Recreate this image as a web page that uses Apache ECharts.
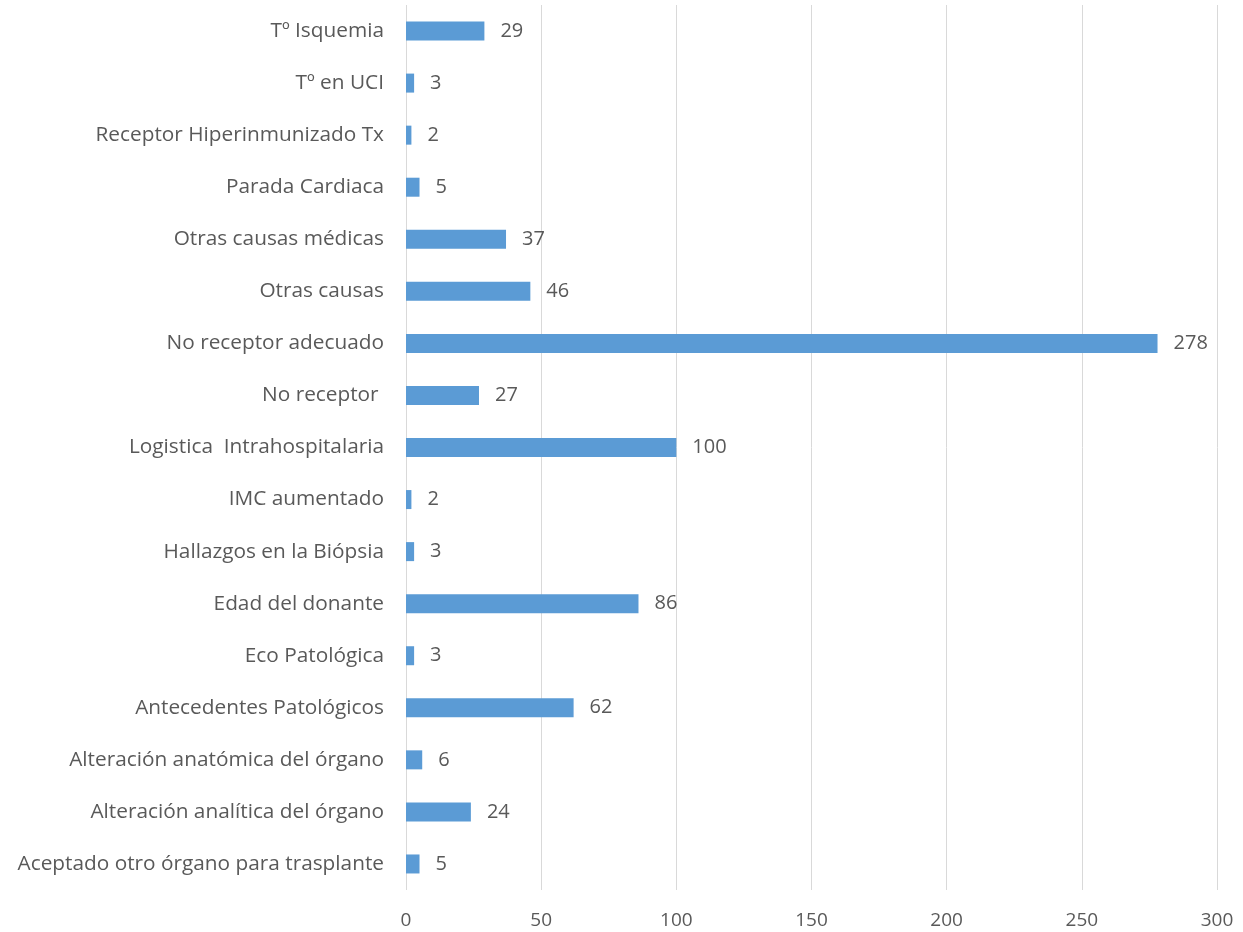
<!DOCTYPE html>
<html>
<head>
<meta charset="utf-8">
<script src="https://cdn.jsdelivr.net/npm/echarts@6/dist/echarts.min.js"></script>
<style>
  html, body { margin: 0; padding: 0; background: #fff; }
  #chart { width: 1243px; height: 932px; }
</style>
</head>
<body>
<div id="chart"></div>
<script>
// categorías (de abajo hacia arriba, como en el eje)
const categories = [
  'Aceptado otro órgano para trasplante',
  'Alteración analítica del órgano',
  'Alteración anatómica del órgano',
  'Antecedentes Patológicos',
  'Eco Patológica',
  'Edad del donante',
  'Hallazgos en la Biópsia',
  'IMC aumentado',
  'Logistica  Intrahospitalaria',
  'No receptor ',
  'No receptor adecuado',
  'Otras causas',
  'Otras causas médicas',
  'Parada Cardiaca',
  'Receptor Hiperinmunizado Tx',
  'Tº en UCI',
  'Tº Isquemia'
]
const values = [5, 24, 6, 62, 3, 86, 3, 2, 100, 27, 278, 46, 37, 5, 2, 3, 29]
const xTicks = [0, 50, 100, 150, 200, 250, 300]

const textColor = '#595959'
const font = '"Open Sans", sans-serif'

const myChart = echarts.init(document.getElementById('chart'))

const option = {
  animation: false,
  grid: {
    left: 406,
    right: 26,
    top: 5,
    bottom: 42
  },
  xAxis: {
    type: 'value',
    min: xTicks[0],
    max: xTicks[xTicks.length - 1],
    interval: 50,
    axisLine: { show: false },
    axisTick: { show: false },
    axisLabel: {
      color: textColor,
      fontFamily: font,
      fontSize: 19,
      margin: 21
    },
    splitLine: {
      lineStyle: { color: '#D9D9D9', width: 1 }
    }
  },
  yAxis: {
    type: 'category',
    data: categories,
    axisLine: { show: false },
    axisTick: { show: false },
    axisLabel: {
      color: textColor,
      fontFamily: font,
      fontSize: 20.8,
      margin: 22
    }
  },
  series: [
    {
      type: 'bar',
      data: values,
      barWidth: 19,
      itemStyle: { color: '#5B9BD5' },
      label: {
        show: true,
        position: 'right',
        distance: 16,
        color: textColor,
        fontFamily: font,
        fontSize: 20
      }
    }
  ]
}

myChart.setOption(option)
</script>
</body>
</html>
